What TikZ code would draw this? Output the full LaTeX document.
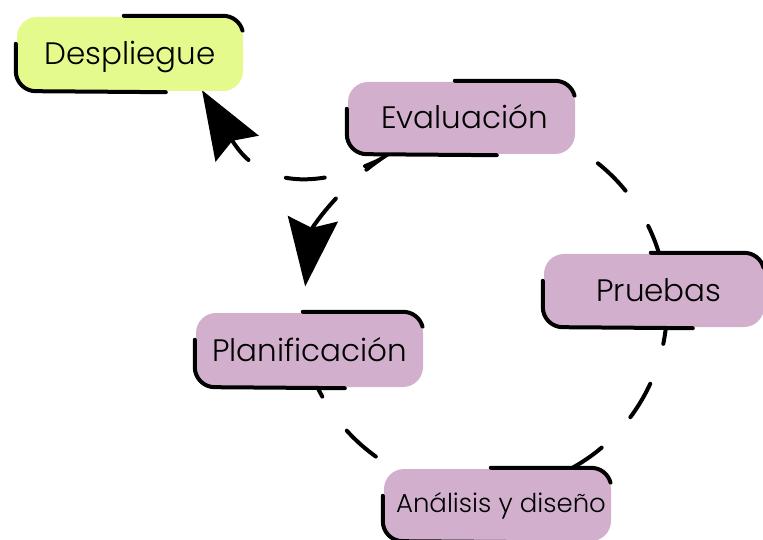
\documentclass[tikz,border=0pt]{standalone}
\usepackage{fontspec}
\setmainfont{Poppins Light}
\usetikzlibrary{calc,arrows.meta}
\definecolor{lilac}{RGB}{210,176,205}
\definecolor{limefill}{RGB}{228,250,140}
\pgfdeclarelayer{bg}
\pgfsetlayers{bg,main}
\newcommand\boxstrokes[1]{%
  \draw[boxline] ($(#1.north west)+(107,1)$) -- ($(#1.north east)+(-20,1)$)
     arc[start angle=90,end angle=15,radius=20pt];
  \draw[boxline] ($(#1.north west)+(-1,-27)$) -- ($(#1.south west)+(-1,20)$)
     arc[start angle=180,end angle=270,radius=20pt] -- ($(#1.south west)+(149,-1)$);
}
\begin{document}
\begin{tikzpicture}[x=1pt,y=1pt,
  card/.style={rectangle, rounded corners=20pt, minimum width=227pt, minimum height=73pt,
    inner sep=0pt, fill=lilac, text height=22pt, text depth=0pt,
    font=\fontsize{31}{36}\selectfont},
  boxline/.style={line width=4pt, line cap=round, draw=black},
  conn/.style={line width=4pt, line cap=round, dash pattern=on 39pt off 42pt},
  bighead/.style={-{Stealth[length=68pt,width=50pt,inset=9pt]}}]
\useasboundingbox (0,0) rectangle (763,539);
\node[card, fill=limefill, minimum width=226pt, minimum height=74pt] (dep) at (130,485) {Despliegue};
\node[card, minimum height=72pt] (eval) at (461.5,421) {\hspace*{6pt}Evaluación};
\node[card, minimum width=220pt] (prue) at (654,248.5) {\hspace*{10pt}Pruebas};
\node[card, minimum height=74pt] (plan) at (309.5,189) {Planificación};
\node[card, minimum height=72pt, text height=14pt, font=\fontsize{26}{30}\selectfont] (anal) at (497.5,34) {\hspace*{7pt}Análisis y diseño};
\foreach \n in {dep,eval,prue,plan,anal}{\boxstrokes{\n}}
\coordinate (ctr) at (483,232);
\coordinate (ctrE) at (485,232);
\begin{pgfonlayer}{bg}
\draw[conn] ($(ctr)+(197:184pt)$) arc[start angle=197,end angle=245,radius=184pt];
\draw[conn] ($(ctr)+(298:184pt)$) arc[start angle=298,end angle=358,radius=184pt];
\draw[conn] ($(ctr)+(14:184pt)$) arc[start angle=14,end angle=75,radius=184pt];
\draw[conn, bighead] ($(ctrE)+(118.5:181pt)$) arc[start angle=118.5,end angle=173.5,radius=181pt];
\draw[conn, dash phase=24pt, bighead] ($(eval.south west)+(31,-6)$) .. controls (330,356) and (265,344) .. ($(dep.south)+(72,1)$);
\end{pgfonlayer}
\end{tikzpicture}
\end{document}
